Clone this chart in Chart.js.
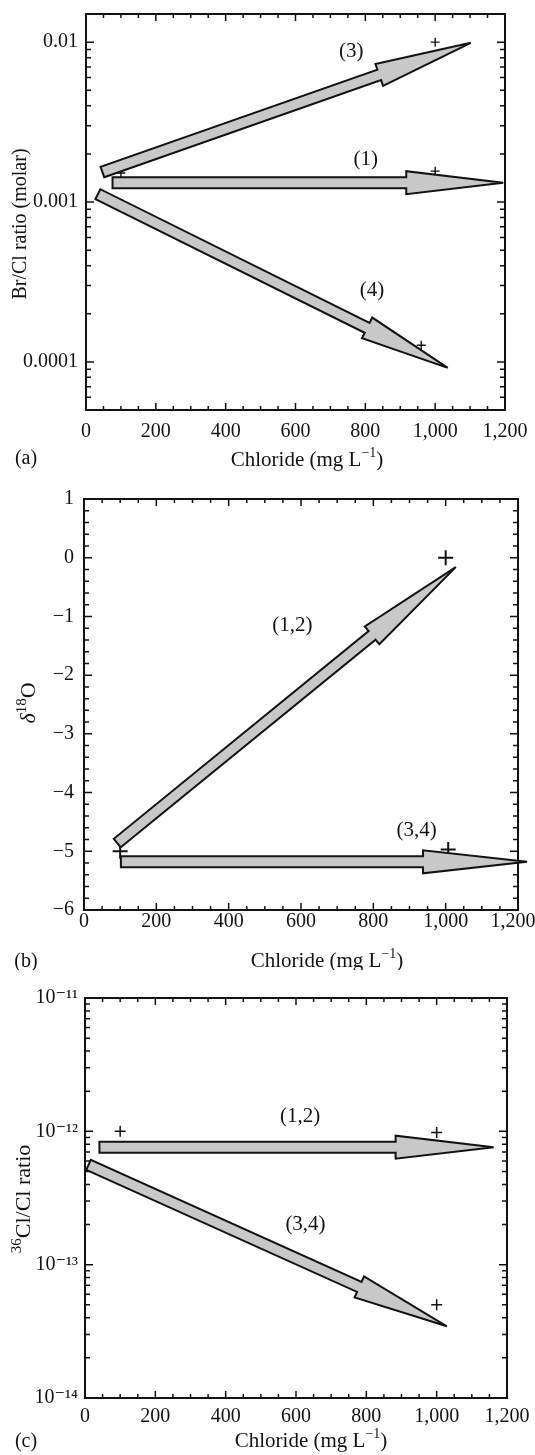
<!DOCTYPE html>
<html>
<head>
<meta charset="utf-8">
<script src="https://cdn.jsdelivr.net/npm/chart.js@4.4.1/dist/chart.umd.min.js"></script>
<style>
  html, body { margin: 0; padding: 0; background: #fff; }
  body { width: 535px; height: 1455px; position: relative; overflow: hidden; }
  canvas { position: absolute; left: 0; display: block; }
</style>
</head>
<body>
<canvas id="chartA" width="535" height="478" style="top:0"></canvas>
<canvas id="chartB" width="535" height="492" style="top:478px"></canvas>
<canvas id="chartC" width="535" height="485" style="top:970px"></canvas>
<script>
// ---- shared x axis: chloride (mg/L) ----
const chlorideTicks = [0, 200, 400, 600, 800, 1000, 1200];
const chlorideTickLabels = ['0', '200', '400', '600', '800', '1,000', '1,200'];

// ---- (a) Br/Cl ratio ----
const brclTicks = [0.0001, 0.001, 0.01];
const brclTickLabels = ['0.0001', '0.001', '0.01'];
const brclPath1 = [[76, 0.00132], [1195, 0.00132]];
const brclPath3 = [[47, 0.00154], [1102, 0.0099]];
const brclPath4 = [[34, 0.00112], [1036, 0.0000917]];
const brclPoints = [[100, 0.00152], [1000, 0.01], [1000, 0.00156], [960, 0.000127]];
const brclNames = ['(1)', '(3)', '(4)'];
const brclNameAt = [[801, 0.00184], [760, 0.0088], [819, 0.000278]];

// ---- (b) delta 18O ----
const d18oTicks = [-6, -5, -4, -3, -2, -1, 0, 1];
const d18oTickLabels = ['\u22126', '\u22125', '\u22124', '\u22123', '\u22122', '\u22121', '0', '1'];
const d18oPath12 = [[92, -4.86], [1028, -0.16]];
const d18oPath34 = [[102, -5.18], [1225, -5.18]];
const d18oPoints = [[100, -5.0], [1000, 0.0], [1007, -4.97]];
const d18oNames = ['(1,2)', '(3,4)'];
const d18oNameAt = [[576, -1.16], [920, -4.64]];

// ---- (c) 36Cl/Cl ratio ----
const cl36Ticks = [1e-14, 1e-13, 1e-12, 1e-11];
const cl36TickLabels = ['10\u207B\u00B9\u2074', '10\u207B\u00B9\u00B3', '10\u207B\u00B9\u00B2', '10\u207B\u00B9\u00B9'];
const cl36Path12 = [[41, 7.6e-13], [1162, 7.6e-13]];
const cl36Path34 = [[10, 5.6e-13], [1029, 3.45e-14]];
const cl36Points = [[100, 1.0e-12], [1000, 0.98e-12], [1000, 5.0e-14]];
const cl36Names = ['(1,2)', '(3,4)'];
const cl36NameAt = [[612, 1.3e-12], [627, 2.0e-13]];

const INK = '#121212';
const ARROW_FILL = '#c8c8c8';
const SERIF = "'Liberation Serif', 'DejaVu Serif', serif";

const toXY = arr => arr.map(([x, y]) => ({ x, y }));

// tick helpers (minor ticks are just axis decoration)
function linearTicks(min, max, step, majors) {
  const out = [];
  const n = Math.round((max - min) / step);
  for (let i = 0; i <= n; i++) {
    const v = Math.round((min + i * step) * 1000) / 1000;
    out.push({ value: v, major: majors.includes(v) });
  }
  return out;
}
function logTicks(min, max) {
  const out = [];
  for (let e = Math.floor(Math.log10(min)); e <= Math.ceil(Math.log10(max)); e++) {
    for (let m = 1; m <= 9; m++) {
      const v = m * Math.pow(10, e);
      if (v >= min * 0.999999 && v <= max * 1.000001) out.push({ value: v, major: m === 1 });
    }
  }
  return out;
}
function labelFor(values, labels, v, log) {
  const i = values.findIndex(t => log ? Math.abs(v / t - 1) < 1e-6 : Math.abs(v - t) < 1e-6);
  return i < 0 ? '' : labels[i];
}

// inward ticks on all four sides + frame
const framePlugin = {
  id: 'frame',
  beforeDatasetsDraw(chart) {
    const { ctx, chartArea: a, scales: { x, y } } = chart;
    ctx.save();
    ctx.strokeStyle = INK;
    ctx.lineWidth = 1.5;
    ctx.beginPath();
    x.ticks.forEach(t => {
      const px = x.getPixelForValue(t.value);
      const len = t.major ? 7 : 4;
      ctx.moveTo(px, a.bottom); ctx.lineTo(px, a.bottom - len);
      ctx.moveTo(px, a.top); ctx.lineTo(px, a.top + len);
    });
    y.ticks.forEach(t => {
      const py = y.getPixelForValue(t.value);
      const len = t.major ? 8 : 5;
      ctx.moveTo(a.left, py); ctx.lineTo(a.left + len, py);
      ctx.moveTo(a.right, py); ctx.lineTo(a.right - len, py);
    });
    ctx.stroke();
    ctx.lineWidth = 2;
    ctx.strokeRect(a.left, a.top, a.right - a.left, a.bottom - a.top);
    ctx.restore();
  }
};

// block arrows between the two points of each arrow dataset
const arrowPlugin = {
  id: 'arrows',
  afterDatasetsDraw(chart) {
    const ctx = chart.ctx;
    chart.data.datasets.forEach((ds, i) => {
      if (!ds.arrow) return;
      const pts = chart.getDatasetMeta(i).data;
      const x0 = pts[0].x, y0 = pts[0].y, x1 = pts[1].x, y1 = pts[1].y;
      const len = Math.hypot(x1 - x0, y1 - y0);
      const ux = (x1 - x0) / len, uy = (y1 - y0) / len;
      const nx = -uy, ny = ux;
      const bx = x1 - ux * ds.headLength, by = y1 - uy * ds.headLength;
      const w = 5.5, hw = 11.5;
      ctx.save();
      ctx.beginPath();
      ctx.moveTo(x0 + nx * w, y0 + ny * w);
      ctx.lineTo(bx + nx * w, by + ny * w);
      ctx.lineTo(bx + nx * hw, by + ny * hw);
      ctx.lineTo(x1, y1);
      ctx.lineTo(bx - nx * hw, by - ny * hw);
      ctx.lineTo(bx - nx * w, by - ny * w);
      ctx.lineTo(x0 - nx * w, y0 - ny * w);
      ctx.closePath();
      ctx.fillStyle = ARROW_FILL;
      ctx.fill();
      ctx.lineWidth = 2;
      ctx.lineJoin = 'miter';
      ctx.miterLimit = 4;
      ctx.strokeStyle = INK;
      ctx.stroke();
      ctx.restore();
    });
  }
};

// text with superscript / italic runs, centred on (x, y)
function drawRich(ctx, parts, x, y, size, rotate) {
  const fontOf = p => (p.italic ? 'italic ' : '') + (p.sup ? Math.round(size * 0.66) : size) + 'px ' + SERIF;
  ctx.save();
  ctx.translate(x, y);
  if (rotate) ctx.rotate(-Math.PI / 2);
  ctx.fillStyle = INK;
  ctx.textBaseline = 'alphabetic';
  ctx.textAlign = 'left';
  let total = 0;
  parts.forEach(p => { ctx.font = fontOf(p); total += ctx.measureText(p.t).width; });
  let cx = -total / 2;
  parts.forEach(p => {
    ctx.font = fontOf(p);
    ctx.fillText(p.t, cx, size * 0.33 - (p.sup ? size * 0.42 : 0));
    cx += ctx.measureText(p.t).width;
  });
  ctx.restore();
}

// curve names, axis titles and panel tag
const notesPlugin = {
  id: 'notes',
  afterDatasetsDraw(chart, args, opts) {
    const { ctx, scales: { x, y } } = chart;
    ctx.save();
    ctx.fillStyle = INK;
    ctx.font = '21px ' + SERIF;
    ctx.textAlign = 'center';
    ctx.textBaseline = 'middle';
    opts.names.forEach((name, i) => {
      const [vx, vy] = opts.nameAt[i];
      ctx.fillText(name, x.getPixelForValue(vx), y.getPixelForValue(vy));
    });
    ctx.restore();
    drawRich(ctx, opts.xTitle.parts, opts.xTitle.x, opts.xTitle.y, 21, false);
    drawRich(ctx, opts.yTitle.parts, opts.yTitle.x, opts.yTitle.y, opts.yTitle.size, true);
    drawRich(ctx, [{ t: opts.tag.t }], opts.tag.x, opts.tag.y, 20, false);
  }
};

const chlorideTitle = [{ t: 'Chloride (mg L' }, { t: '\u22121', sup: true }, { t: ')' }];

function buildPanel(id, p) {
  const area = p.area;
  const datasets = [{
    data: toXY(p.points),
    pointStyle: 'cross',
    pointRadius: p.markSize,
    pointHoverRadius: p.markSize,
    pointBorderColor: INK,
    pointBorderWidth: p.markWidth,
    pointBackgroundColor: 'rgba(0,0,0,0)',
    showLine: false
  }];
  p.paths.forEach((path, i) => datasets.push({
    data: toXY(path),
    arrow: true,
    headLength: p.heads[i],
    pointRadius: 0,
    pointHoverRadius: 0,
    showLine: false
  }));

  const tickFont = { family: SERIF, size: 20 };
  new Chart(document.getElementById(id), {
    type: 'scatter',
    data: { datasets },
    options: {
      responsive: false,
      animation: false,
      events: [],
      layout: { padding: { left: 0, top: area.top, right: 535 - area.right, bottom: 0 } },
      plugins: {
        legend: { display: false },
        tooltip: { enabled: false },
        notes: { names: p.names, nameAt: p.nameAt, xTitle: p.xTitle, yTitle: p.yTitle, tag: p.tag }
      },
      scales: {
        x: {
          type: 'linear',
          min: 0,
          max: 1200,
          grid: { display: false, drawTicks: false },
          border: { display: false },
          afterBuildTicks: s => { s.ticks = linearTicks(0, 1200, 50, chlorideTicks); },
          afterFit: s => { s.height = p.height - area.bottom; s.paddingLeft = 0; s.paddingRight = 0; },
          ticks: {
            autoSkip: false,
            maxRotation: 0,
            padding: p.xPad,
            color: INK,
            font: tickFont,
            // last label nudged left when it would run off the page
            callback: v => {
              const s = labelFor(chlorideTicks, chlorideTickLabels, v, false);
              return (p.nudgeLast && v === 1200) ? s + '\u2002' : s;
            }
          }
        },
        y: {
          type: p.yType,
          min: p.yMin,
          max: p.yMax,
          grid: { display: false, drawTicks: false },
          border: { display: false },
          afterBuildTicks: s => { s.ticks = p.yTickList; },
          afterFit: s => { s.width = area.left; s.paddingTop = 0; s.paddingBottom = 0; },
          ticks: {
            autoSkip: false,
            padding: p.yPad,
            color: INK,
            font: tickFont,
            callback: v => labelFor(p.yTicks, p.yTickLabels, v, p.yType === 'logarithmic')
          }
        }
      }
    },
    plugins: [framePlugin, arrowPlugin, notesPlugin]
  });
}

buildPanel('chartA', {
  height: 478,
  area: { left: 86, top: 14, right: 505, bottom: 410 },
  yType: 'logarithmic', yMin: 5e-5, yMax: 0.015,
  yTicks: brclTicks, yTickLabels: brclTickLabels, yTickList: logTicks(5e-5, 0.015),
  points: brclPoints,
  paths: [brclPath1, brclPath3, brclPath4], heads: [97, 97, 90],
  names: brclNames, nameAt: brclNameAt,
  markSize: 4.5, markWidth: 1.4,
  xPad: 10, yPad: 8,
  xTitle: { parts: chlorideTitle, x: 307, y: 459 },
  yTitle: { parts: [{ t: 'Br/Cl ratio (molar)' }], x: 19, y: 224, size: 20 },
  tag: { t: '(a)', x: 26, y: 457 }
});

buildPanel('chartB', {
  height: 492,
  area: { left: 84, top: 21, right: 518, bottom: 432 },
  yType: 'linear', yMin: -6, yMax: 1,
  yTicks: d18oTicks, yTickLabels: d18oTickLabels, yTickList: linearTicks(-6, 1, 0.2, d18oTicks),
  points: d18oPoints,
  paths: [d18oPath12, d18oPath34], heads: [108, 104],
  names: d18oNames, nameAt: d18oNameAt,
  markSize: 7.5, markWidth: 2,
  xPad: 0, yPad: 10, nudgeLast: true,
  xTitle: { parts: chlorideTitle, x: 327, y: 482 },
  yTitle: { parts: [{ t: '\u03B4', italic: true }, { t: '18', sup: true }, { t: 'O' }], x: 28, y: 225, size: 22 },
  tag: { t: '(b)', x: 26, y: 482 }
});

buildPanel('chartC', {
  height: 485,
  area: { left: 85, top: 28, right: 507, bottom: 428 },
  yType: 'logarithmic', yMin: 1e-14, yMax: 1e-11,
  yTicks: cl36Ticks, yTickLabels: cl36TickLabels, yTickList: logTicks(1e-14, 1e-11),
  points: cl36Points,
  paths: [cl36Path12, cl36Path34], heads: [98, 96],
  names: cl36Names, nameAt: cl36NameAt,
  markSize: 5.5, markWidth: 1.5,
  xPad: 7, yPad: 7,
  xTitle: { parts: chlorideTitle, x: 311, y: 470 },
  yTitle: { parts: [{ t: '36', sup: true }, { t: 'Cl/Cl ratio' }], x: 23, y: 229, size: 22 },
  tag: { t: '(c)', x: 26, y: 470 }
});
</script>
</body>
</html>
